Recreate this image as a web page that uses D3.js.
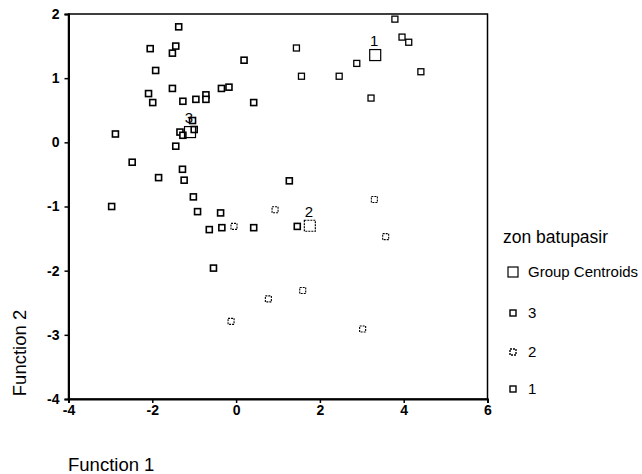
<!DOCTYPE html>
<html>
<head>
<meta charset="utf-8">
<script src="https://cdn.jsdelivr.net/npm/d3@7"></script>
<style>
body { margin: 0; background: #fff; }
text { font-family: "Liberation Sans", Arial, sans-serif; fill: #000; }
</style>
</head>
<body>
<script>
var width = 642, height = 474

// discriminant scores
var group3 = [
  [-1.37, 1.80], [-2.05, 1.46], [-1.44, 1.50], [-1.52, 1.39], [-1.92, 1.12],
  [0.19, 1.28], [-2.09, 0.76], [-1.99, 0.62], [-1.52, 0.84], [-1.27, 0.64],
  [-0.96, 0.67], [-0.72, 0.74], [-0.72, 0.67], [-0.35, 0.84], [-0.17, 0.86],
  [0.42, 0.62], [-1.04, 0.34], [-1.0, 0.2], [-1.34, 0.16], [-1.27, 0.11],
  [-2.88, 0.13], [-1.44, -0.06], [-2.48, -0.31], [-1.28, -0.42], [-1.85, -0.55],
  [-1.24, -0.59], [-1.02, -0.85], [-2.97, -1.0], [-0.92, -1.08], [-0.37, -1.10],
  [-0.64, -1.36], [-0.34, -1.33], [0.42, -1.33], [-0.54, -1.96], [1.27, -0.60],
  [1.46, -1.31]
]
var group2 = [
  [-0.05, -1.31], [-0.12, -2.79], [0.93, -1.05], [3.30, -0.89], [3.57, -1.47],
  [1.59, -2.31], [0.77, -2.44], [3.02, -2.91]
]
var group1 = [
  [3.79, 1.92], [3.96, 1.64], [4.12, 1.56], [2.88, 1.23], [4.41, 1.10],
  [1.56, 1.03], [2.46, 1.03], [1.44, 1.47], [3.22, 0.69]
]
var centroids = [
  {label: "1", x: 3.32, y: 1.36},
  {label: "2", x: 1.76, y: -1.30},
  {label: "3", x: -1.10, y: 0.16}
]
var xTicks = [-4, -2, 0, 2, 4, 6]
var yTicks = [-4, -3, -2, -1, 0, 1, 2]
var legendItems = ["Group Centroids", "3", "2", "1"]

var svg = d3.select("body").append("svg")
    .attr("width", width)
    .attr("height", height)

var x = d3.scaleLinear().domain([-4, 6]).range([68.5, 487.5])
var y = d3.scaleLinear().domain([-4, 2]).range([399, 14])

// frame
svg.append("rect")
  .attr("x", x(-4)).attr("y", y(2))
  .attr("width", x(6) - x(-4)).attr("height", y(-4) - y(2))
  .attr("fill", "none").attr("stroke", "#000").attr("stroke-width", 1.5)

var fmt = function(d) { return String(d) }
var xAxis = svg.append("g")
  .attr("transform", "translate(0," + y(-4) + ")")
  .call(d3.axisBottom(x).tickValues(xTicks).tickSize(4).tickPadding(2).tickFormat(fmt))
var yAxis = svg.append("g")
  .attr("transform", "translate(" + x(-4) + ",0)")
  .call(d3.axisLeft(y).tickValues(yTicks).tickSize(4).tickPadding(5).tickFormat(fmt))

;[xAxis, yAxis].forEach(function(a) {
  a.select(".domain").attr("stroke-width", 2)
  a.selectAll(".tick line").attr("stroke-width", 1.5)
  a.selectAll("text")
    .attr("fill", "#000")
    .style("font-size", "14px")
    .style("font-weight", "bold")
    .style("font-family", "'Liberation Sans', Arial, sans-serif")
})

function drawGroup(data, cls, dash, sw) {
  svg.append("g").attr("class", cls)
    .selectAll("rect")
    .data(data)
    .enter().append("rect")
    .attr("x", function(d) { return x(d[0]) - 3 })
    .attr("y", function(d) { return y(d[1]) - 3 })
    .attr("width", 6).attr("height", 6)
    .attr("fill", "#fff")
    .attr("stroke", "#000")
    .attr("stroke-width", sw)
    .attr("stroke-dasharray", dash)
}
drawGroup(group3, "g3", null, 1.6)
drawGroup(group2, "g2", "2,1", 1.1)
drawGroup(group1, "g1", null, 1.3)

// group centroids
var cen = svg.append("g").selectAll("g")
  .data(centroids)
  .enter().append("g")
cen.append("rect")
  .attr("x", function(d) { return x(d.x) - 5.5 })
  .attr("y", function(d) { return y(d.y) - 5.5 })
  .attr("width", 11).attr("height", 11)
  .attr("fill", "none").attr("stroke", "#000").attr("stroke-width", 1.2)
  .attr("stroke-dasharray", function(d) { return d.label == "2" ? "2,1" : null })
cen.append("text")
  .attr("x", function(d) { return x(d.x) - 1 })
  .attr("y", function(d) { return y(d.y) - 9 })
  .attr("text-anchor", "middle")
  .style("font-size", "15px")
  .text(function(d) { return d.label })

// axis titles
svg.append("text")
  .attr("x", 68).attr("y", 471)
  .style("font-size", "18.5px")
  .text("Function 1")
svg.append("text")
  .attr("transform", "translate(26,353) rotate(-90)")
  .attr("text-anchor", "middle")
  .style("font-size", "18.5px")
  .text("Function 2")

// legend
var legend = svg.append("g").attr("transform", "translate(503,0)")
legend.append("text")
  .attr("x", 0).attr("y", 243)
  .style("font-size", "17.5px")
  .text("zon batupasir")
var legendY = [272, 313, 352, 389]
var item = legend.selectAll(".item")
  .data(legendItems)
  .enter().append("g").attr("class", "item")
  .attr("transform", function(d, i) { return "translate(0," + legendY[i] + ")" })
item.append("rect")
  .attr("x", function(d, i) { return i == 0 ? 5 : 7 })
  .attr("y", function(d, i) { return i == 0 ? -5 : -3 })
  .attr("width", function(d, i) { return i == 0 ? 10 : 6 })
  .attr("height", function(d, i) { return i == 0 ? 10 : 6 })
  .attr("fill", "#fff").attr("stroke", "#000")
  .attr("stroke-width", function(d, i) { return i == 0 ? 1.2 : 1.4 })
  .attr("stroke-dasharray", function(d) { return d == "2" ? "2,1" : null })
item.append("text")
  .attr("x", 25).attr("y", 5)
  .style("font-size", "15px")
  .text(function(d) { return d })
</script>
</body>
</html>
